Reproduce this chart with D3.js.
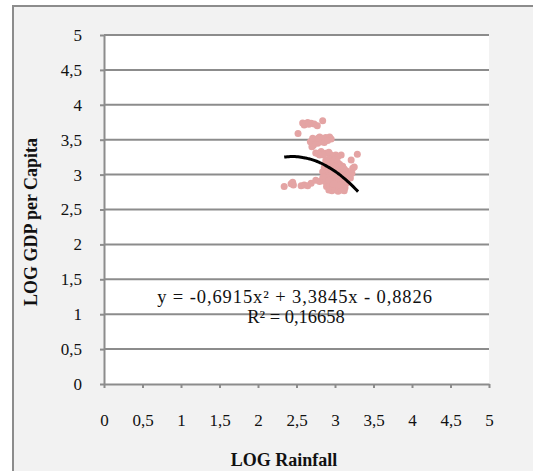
<!DOCTYPE html>
<html><head><meta charset="utf-8">
<script src="https://cdn.jsdelivr.net/npm/d3@7"></script>
<style>
body{margin:0;background:#fff;}
svg text{font-family:"Liberation Serif","Times New Roman",serif;}
</style></head>
<body><svg id="c" width="533" height="471"></svg>
<script>
const xTicks = [0,0.5,1,1.5,2,2.5,3,3.5,4,4.5,5];
const yTicks = [0,0.5,1,1.5,2,2.5,3,3.5,4,4.5,5];
const xTitle = "LOG Rainfall";
const yTitle = "LOG GDP per Capita";
const coef = [-0.6915, 3.3845, -0.8826];
const trendRange = [2.34, 3.3];
const eqText = "y = -0,6915x² + 3,3845x - 0,8826";
const r2Text = "R² = 0,16658";
const rainfall = [
2.58,2.60,2.645,2.69,2.73,2.77,2.84,2.52,2.62,2.66,
2.68,2.71,2.75,2.80,2.84,2.88,2.93,2.95,2.82,2.775,2.72,2.86,2.905,2.78,2.70,
2.75,2.82,2.88,2.95,3.01,3.08,3.29,2.80,2.78,2.92,3.04,2.85,
3.21,3.23,3.25,3.22,3.20,
2.34,2.43,2.46,2.45,2.56,2.60,2.645,2.69,2.75,2.80,2.84,2.86,
2.88,2.92,2.96,3.00,3.03,2.90,2.94,2.98,3.02,3.06,3.10,2.86,2.89,2.93,2.97,3.01,3.05,3.08,3.12,3.15,
2.84,2.88,2.91,2.95,2.99,3.03,3.07,3.11,3.14,3.17,2.85,2.89,2.93,2.97,3.01,3.05,3.09,3.13,3.16,
2.87,2.91,2.95,2.99,3.03,3.07,3.11,3.15,2.89,2.93,2.97,3.01,3.05,3.09,3.13,
2.92,2.96,3.00,3.04,3.08,3.12,2.94,3.00,2.96,3.04,2.92,3.06,2.98,3.10,2.87,3.18];
const gdp = [
3.74,3.71,3.745,3.735,3.725,3.70,3.77,3.59,3.73,3.72,
3.47,3.52,3.50,3.54,3.52,3.53,3.54,3.51,3.47,3.45,3.42,3.46,3.49,3.52,3.40,
3.31,3.33,3.305,3.28,3.28,3.28,3.29,3.28,3.30,3.32,3.26,3.28,
3.21,3.09,3.11,3.02,2.95,
2.83,2.87,2.85,2.89,2.84,2.85,2.84,2.875,2.92,2.90,2.95,2.98,
3.20,3.22,3.19,3.21,3.18,3.15,3.13,3.16,3.14,3.15,3.12,3.10,3.08,3.06,3.09,3.07,3.10,3.06,3.08,3.05,
3.04,3.02,3.00,3.03,3.01,3.04,3.00,3.02,2.99,3.01,2.97,2.95,2.97,2.94,2.96,2.93,2.95,2.92,2.94,
2.90,2.88,2.91,2.89,2.87,2.90,2.86,2.88,2.83,2.81,2.84,2.82,2.80,2.83,2.81,
2.78,2.77,2.79,2.76,2.78,2.77,3.11,3.12,3.00,2.99,2.92,2.85,2.86,2.97,3.13,2.97];

const svg = d3.select("#c");
const L=104, R=489, T=35, B=384;
const x = d3.scaleLinear().domain([0,5]).range([L,R]);
const y = d3.scaleLinear().domain([0,5]).range([B,T]);
const fmt = d => String(d).replace(".", ",");
const grey = "#8c8c8c";

svg.append("rect").attr("x",13).attr("y",6).attr("width",560).attr("height",500)
  .attr("fill","#f2f2f2").attr("stroke",grey).attr("stroke-width",2);
svg.append("rect").attr("x",L).attr("y",T).attr("width",R-L).attr("height",B-T).attr("fill","#fff");

svg.append("g").selectAll("line").data(yTicks.filter(d=>d>0)).join("line")
  .attr("x1",L).attr("x2",R).attr("y1",d=>y(d)).attr("y2",d=>y(d))
  .attr("stroke",grey).attr("stroke-width",2);

const yAxis = svg.append("g").attr("transform",`translate(${L},0)`)
  .call(d3.axisLeft(y).tickValues(yTicks).tickFormat(fmt).tickSize(4).tickPadding(18).tickSizeOuter(0));
const xAxis = svg.append("g").attr("transform",`translate(0,${B})`)
  .call(d3.axisBottom(x).tickValues(xTicks).tickFormat(fmt).tickSize(4).tickPadding(26).tickSizeOuter(0));
[yAxis,xAxis].forEach(a=>{
  a.selectAll("path,line").attr("stroke",grey).attr("stroke-width",2);
  a.selectAll("text").attr("font-size",17).attr("fill","#111")
   .attr("font-family","'Liberation Serif','Times New Roman',serif");
});

svg.append("g").selectAll("circle").data(rainfall.map((r,i)=>[r,gdp[i]])).join("circle")
  .attr("cx",d=>x(d[0])).attr("cy",d=>y(d[1])).attr("r",3.5).attr("fill","#e4a4a4");

const tx = d3.range(trendRange[0], trendRange[1]+0.001, 0.02);
svg.append("path").datum(tx)
  .attr("d", d3.line().x(d=>x(d)).y(d=>y(coef[0]*d*d+coef[1]*d+coef[2])).curve(d3.curveBasis))
  .attr("fill","none").attr("stroke","#000").attr("stroke-width",3);

svg.append("text").attr("x",295).attr("y",303).attr("text-anchor","middle")
  .attr("font-size",18.5).attr("letter-spacing",0.9).attr("fill","#111").text(eqText);
svg.append("text").attr("x",296).attr("y",323).attr("text-anchor","middle")
  .attr("font-size",18.5).attr("fill","#111").text(r2Text);

svg.append("text").attr("x",284).attr("y",466).attr("text-anchor","middle")
  .attr("font-size",18).attr("font-weight","bold").attr("fill","#111").text(xTitle);
svg.append("text").attr("transform","translate(37,222) rotate(-90)").attr("text-anchor","middle")
  .attr("font-size",18).attr("font-weight","bold").attr("fill","#111").text(yTitle);
</script></body></html>
